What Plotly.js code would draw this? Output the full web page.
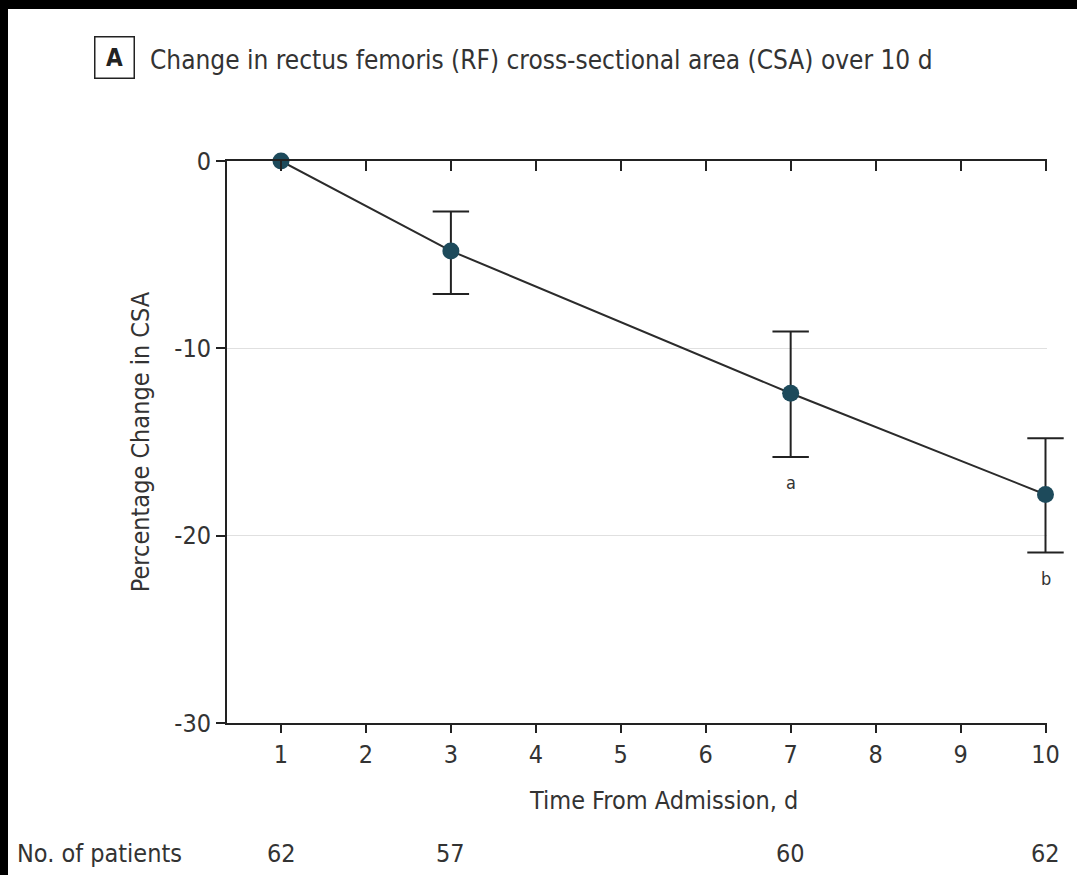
<!DOCTYPE html>
<html>
<head>
<meta charset="utf-8">
<script src="https://cdn.plot.ly/plotly-3.0.1.min.js"></script>
<style>
html,body{margin:0;padding:0;background:#000;width:1077px;height:875px;overflow:hidden;}
#plot{position:absolute;left:8px;top:9px;width:1069px;height:866px;background:#fff;}
</style>
</head>
<body>
<div id="plot"></div>
<script>
const days = [1, 3, 7, 10];
const pctChange = [0, -4.8, -12.4, -17.8];
const ciUpper = [null, -2.7, -9.1, -14.8];
const ciLower = [null, -7.1, -15.8, -20.9];
const patients = [62, 57, 60, 62];
const xTicks = [1, 2, 3, 4, 5, 6, 7, 8, 9, 10];
const yTicks = [0, -10, -20, -30];
const noteDays = [7, 10];
const noteLabels = ['a', 'b'];

const FONT = '"Liberation Sans Narrow", "DejaVu Sans Condensed", "Liberation Sans", sans-serif';
const TXT = '#333333';
const INK = '#222222';

const errPlus = pctChange.map((v, i) => ciUpper[i] === null ? null : +(ciUpper[i] - v).toFixed(3));
const errMinus = pctChange.map((v, i) => ciLower[i] === null ? null : +(v - ciLower[i]).toFixed(3));

// stems of the error bars (caps drawn as markers so they are not clipped at the axis end)
const stemTrace = {
  x: days, y: pctChange, type: 'scatter', mode: 'markers',
  marker: {opacity: 0},
  error_y: {type: 'data', symmetric: false, array: errPlus, arrayminus: errMinus,
            color: INK, thickness: 2, width: 0},
  cliponaxis: false, hoverinfo: 'skip', showlegend: false
};
const capStyle = {symbol: 'line-ew', size: 26, color: INK, line: {color: INK, width: 2}};
const capUpper = {x: days, y: ciUpper, type: 'scatter', mode: 'markers', marker: capStyle,
  cliponaxis: false, hoverinfo: 'skip', showlegend: false};
const capLower = {x: days, y: ciLower, type: 'scatter', mode: 'markers', marker: capStyle,
  cliponaxis: false, hoverinfo: 'skip', showlegend: false};
const trace = {
  x: days, y: pctChange, type: 'scatter', mode: 'lines+markers',
  line: {color: '#2b2b2b', width: 2},
  marker: {color: '#1d4a5b', size: 17},
  cliponaxis: false, hoverinfo: 'skip', showlegend: false
};
const topTrace = {
  x: days, y: pctChange, type: 'scatter', mode: 'markers', xaxis: 'x2',
  marker: {opacity: 0}, cliponaxis: false, hoverinfo: 'skip', showlegend: false
};

const annotations = [];
annotations.push({xref: 'paper', yref: 'paper', x: (94 - 8 - 219) / 820, y: 1 + (152 - (58 - 9)) / 562,
  xanchor: 'left', yanchor: 'middle', text: '<b>A</b>', showarrow: false,
  font: {family: FONT, size: 24, color: INK}, bordercolor: INK, borderwidth: 1.5, borderpad: 6, width: 26, height: 28});
patients.forEach((n, i) => annotations.push({xref: 'x', yref: 'paper', x: days[i], y: (714 - 844) / 562,
  text: String(n), showarrow: false, xanchor: 'center', yanchor: 'middle', font: {family: FONT, size: 25, color: TXT}}));
annotations.push({xref: 'paper', yref: 'paper', x: (15 - 8 - 219) / 820, y: (714 - 844) / 562,
  text: 'No. of patients', showarrow: false, xanchor: 'left', yanchor: 'middle', font: {family: FONT, size: 25, color: TXT}});
annotations.push({xref: 'paper', yref: 'paper', x: (663 - 8 - 219) / 820, y: (714 - 791) / 562,
  text: 'Time From Admission, d', showarrow: false, xanchor: 'center', yanchor: 'middle', font: {family: FONT, size: 25, color: TXT}});
noteDays.forEach((d, k) => {
  const i = days.indexOf(d);
  annotations.push({xref: 'x', yref: 'y', x: d, y: ciLower[i], text: noteLabels[k], showarrow: false,
    xanchor: 'center', yanchor: 'middle', yshift: -26, font: {family: FONT, size: 18, color: TXT}});
});

const layout = {
  width: 1069, height: 866,
  margin: {l: 219, r: 30, t: 152, b: 152},
  paper_bgcolor: '#ffffff', plot_bgcolor: '#ffffff',
  font: {family: FONT, color: TXT},
  title: {text: 'Change in rectus femoris (RF) cross-sectional area (CSA) over 10 d',
    xref: 'container', yref: 'container', x: (150 - 8) / 1069, xanchor: 'left',
    y: 1 - (60 - 9) / 866, yanchor: 'middle', font: {family: FONT, size: 26, color: TXT}},
  xaxis: {range: [0.3643, 10.0177], tickmode: 'array', tickvals: xTicks, ticktext: xTicks.map(String),
    showline: true, linecolor: INK, linewidth: 2, ticks: 'outside', ticklen: 8, tickwidth: 2, tickcolor: INK,
    showgrid: false, zeroline: false, tickfont: {family: FONT, size: 25, color: TXT}},
  xaxis2: {overlaying: 'x', matches: 'x', side: 'top', showline: true, linecolor: INK, linewidth: 2,
    ticks: 'inside', ticklen: 10, tickwidth: 2, tickcolor: INK, tickmode: 'array', tickvals: xTicks,
    showticklabels: false, showgrid: false, zeroline: false},
  yaxis: {range: [-30, 0], tickmode: 'array', tickvals: yTicks, ticktext: yTicks.map(String),
    showline: true, linecolor: INK, linewidth: 2, ticks: 'outside', ticklen: 9, tickwidth: 2, tickcolor: INK,
    showgrid: true, gridcolor: '#e0e0e0', gridwidth: 1, zeroline: false,
    tickfont: {family: FONT, size: 25, color: TXT},
    title: {text: 'Percentage Change in CSA', font: {family: FONT, size: 25, color: TXT}, standoff: 18}},
  annotations: annotations
};

Plotly.newPlot('plot', [topTrace, stemTrace, capUpper, capLower, trace], layout, {staticPlot: true, displayModeBar: false});
</script>
</body>
</html>
